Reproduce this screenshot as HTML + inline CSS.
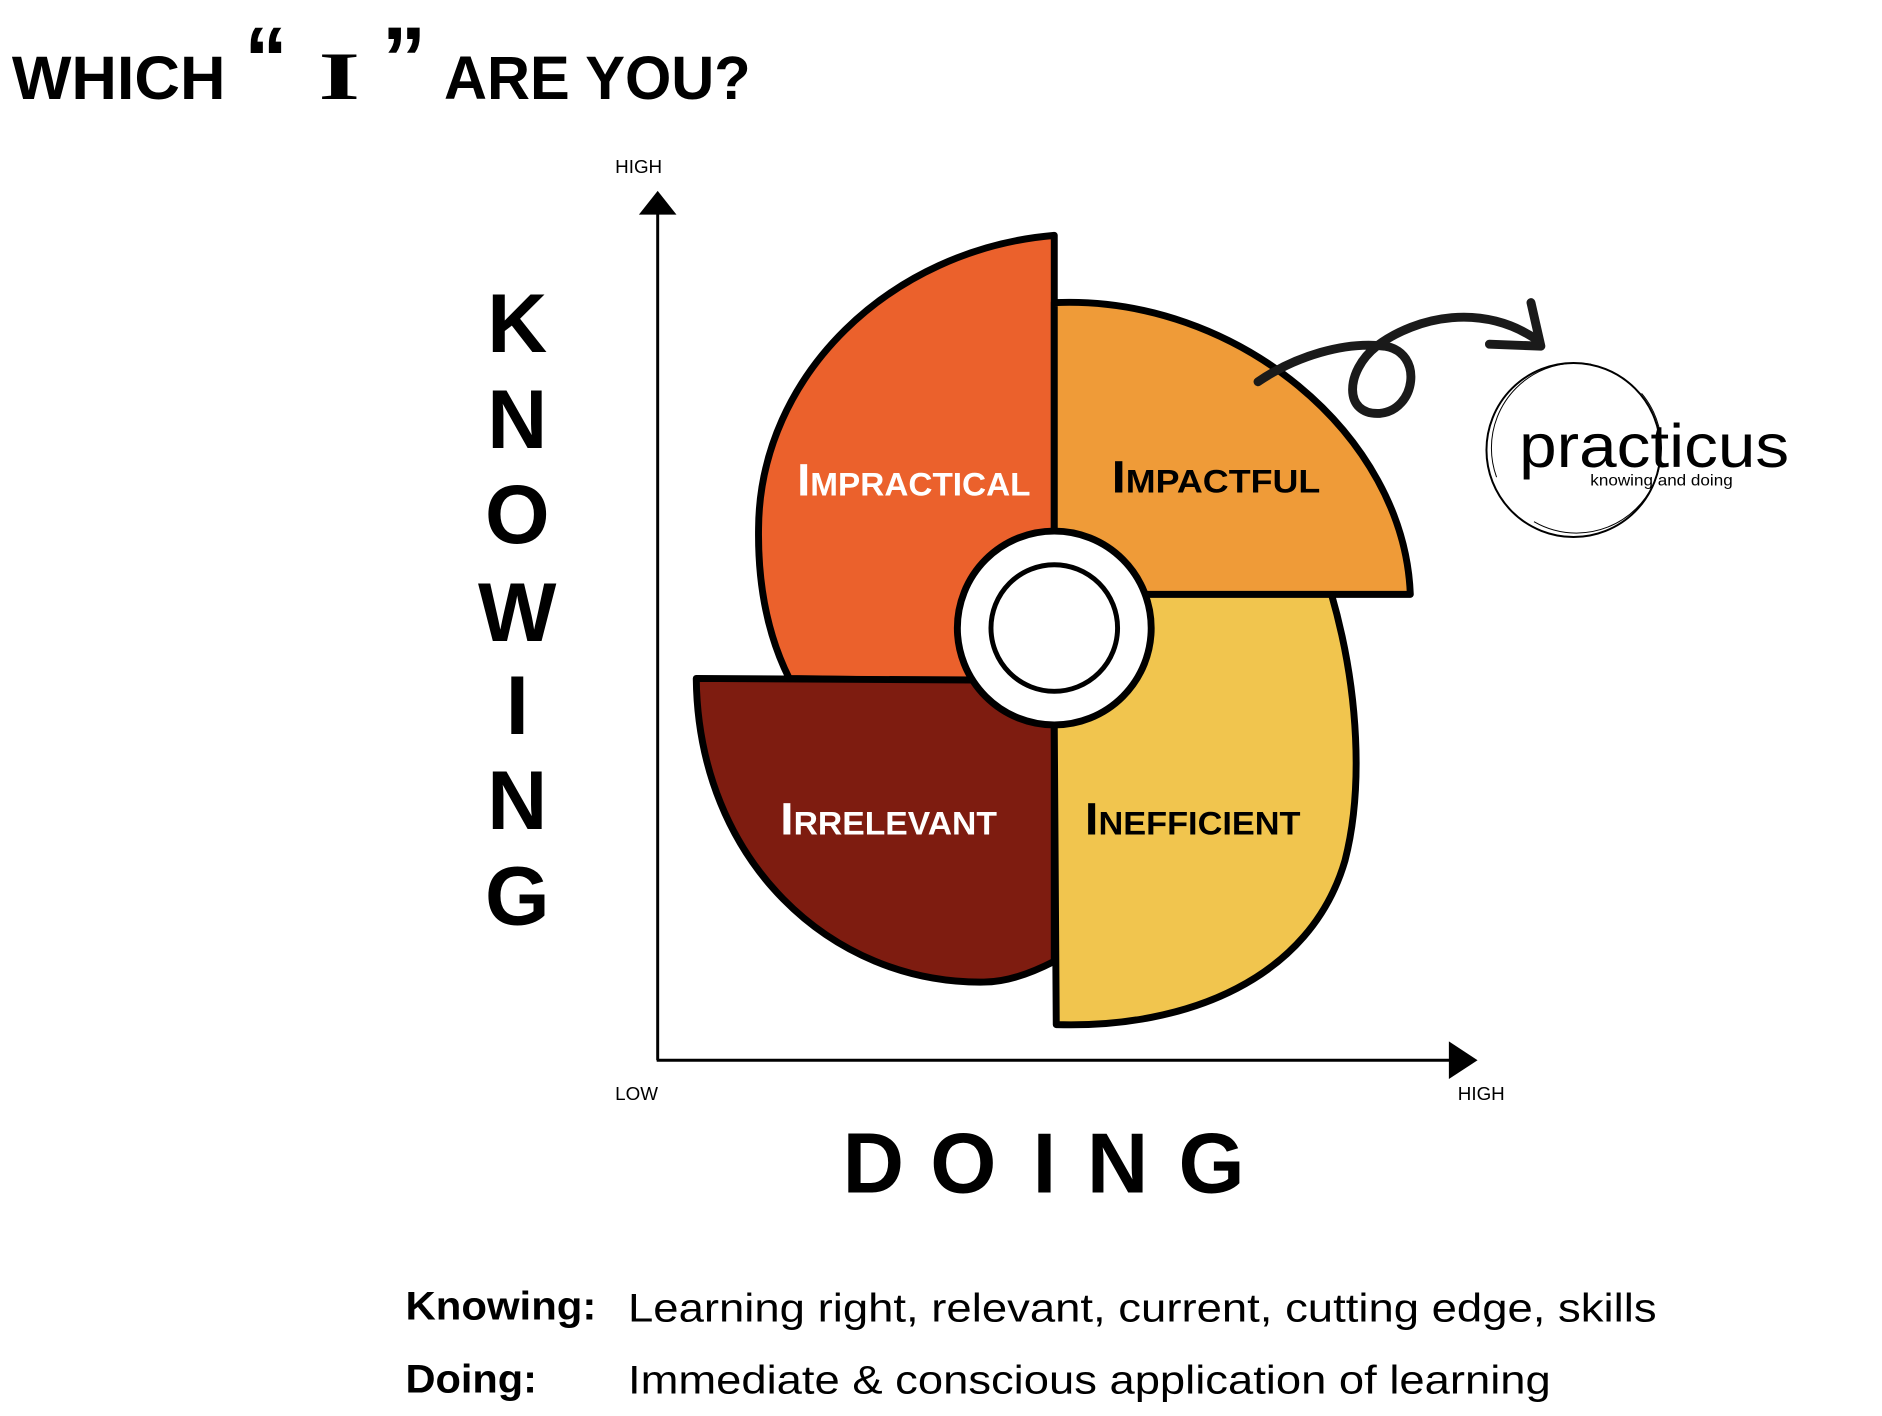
<!DOCTYPE html>
<html><head><meta charset="utf-8"><style>
html,body{margin:0;padding:0;background:#fff;}
svg{display:block;}
</style></head><body>
<svg width="1882" height="1416" viewBox="0 0 1882 1416" xmlns="http://www.w3.org/2000/svg">
<rect width="1882" height="1416" fill="#fff"/>
<g transform="scale(0.989)">
<!-- Title -->
<g font-family="Liberation Sans, sans-serif" font-weight="bold" fill="#000">
<text x="12" y="100" font-size="62" textLength="216" lengthAdjust="spacingAndGlyphs">WHICH</text>
<text x="247" y="90" font-size="90" textLength="44" lengthAdjust="spacingAndGlyphs" font-family="Liberation Sans, sans-serif">“</text>
<text x="322" y="100" font-size="68" textLength="42" lengthAdjust="spacingAndGlyphs" font-family="Liberation Serif, serif">I</text>
<text x="386" y="90" font-size="90" textLength="45" lengthAdjust="spacingAndGlyphs" font-family="Liberation Sans, sans-serif">”</text>
<text x="449" y="100" font-size="62" textLength="310" lengthAdjust="spacingAndGlyphs">ARE YOU?</text>
</g>
<!-- axes -->
<g font-family="Liberation Sans, sans-serif" font-size="19" fill="#000">
<text x="622" y="175">HIGH</text>
<text x="622" y="1112">LOW</text>
<text x="1474" y="1112">HIGH</text>
</g>
<line x1="665" y1="212" x2="665" y2="1072" stroke="#000" stroke-width="3"/>
<line x1="664" y1="1072" x2="1470" y2="1072" stroke="#000" stroke-width="3"/>
<polygon points="646,217 684,217 665,193" fill="#000"/>
<polygon points="1465,1053 1465,1091 1494,1072" fill="#000"/>
<!-- KNOWING -->
<g font-family="Liberation Sans, sans-serif" font-weight="bold" font-size="84" fill="#000" text-anchor="middle">
<text x="523" y="356">K</text>
<text x="523" y="453">N</text>
<text x="523" y="549">O</text>
<text x="523" y="648">W</text>
<text x="523" y="742">I</text>
<text x="523" y="838">N</text>
<text x="523" y="935">G</text>
</g>
<!-- DOING -->
<g font-family="Liberation Sans, sans-serif" font-weight="bold" font-size="86" fill="#000" text-anchor="middle">
<text x="883" y="1206">D</text>
<text x="974" y="1206">O</text>
<text x="1056" y="1206">I</text>
<text x="1130" y="1206">N</text>
<text x="1225" y="1206">G</text>
</g>
<!-- wheel -->
<g stroke="#000" stroke-width="7" stroke-linejoin="round">
<path d="M1066,238 C900,252 768,380 767,534 C766,600 780,650 798,686 L1066,690 Z" fill="#EB612C"/>
<path d="M704,686 L1066,688 L1066,972 C1035,988 1012,993 995,993 C840,995 706,870 704,686 Z" fill="#7E1C10"/>
<path d="M1346,600 C1375,700 1378,800 1360,870 C1325,990 1200,1040 1068,1036 L1066,735 L1066,600 Z" fill="#F1C54E"/>
<path d="M1066,306 C1250,298 1420,440 1426,601 L1066,601 Z" fill="#EF9B38"/>
<circle cx="1066" cy="635" r="98" fill="#fff"/>
<circle cx="1066" cy="635" r="64" fill="#fff" stroke-width="5"/>
</g>
<!-- labels -->
<g font-family="Liberation Sans, sans-serif" font-weight="bold" font-size="46" style="font-variant:small-caps">
<text x="806" y="501" fill="#fff" textLength="236" lengthAdjust="spacingAndGlyphs">Impractical</text>
<text x="1124" y="498" fill="#000" textLength="211" lengthAdjust="spacingAndGlyphs">Impactful</text>
<text x="789" y="844" fill="#fff" textLength="219" lengthAdjust="spacingAndGlyphs">Irrelevant</text>
<text x="1097" y="844" fill="#000" textLength="218" lengthAdjust="spacingAndGlyphs">Inefficient</text>
</g>
<!-- curly arrow -->
<g fill="none" stroke="#1a1a1a" stroke-width="9" stroke-linecap="round" stroke-linejoin="round">
<path d="M1272,386 C1310,360 1360,345 1400,350 C1440,356 1432,415 1395,418 C1358,420 1360,375 1392,350 C1432,320 1500,305 1556,345"/>
<path d="M1548,306 L1558,350 L1506,348"/>
</g>
<!-- practicus logo -->
<circle cx="1591" cy="455" r="88" fill="none" stroke="#000" stroke-width="2"/>
<circle cx="1594" cy="453" r="86" fill="none" stroke="#000" stroke-width="1" stroke-dasharray="180 60"/>
<text x="1536" y="472" font-family="Liberation Sans, sans-serif" font-size="62" fill="#000" textLength="273" lengthAdjust="spacingAndGlyphs">practicus</text>
<text x="1608" y="491" font-family="Liberation Sans, sans-serif" font-size="16" fill="#000" textLength="144" lengthAdjust="spacingAndGlyphs">knowing and doing</text>
<!-- bottom definitions -->
<g font-family="Liberation Sans, sans-serif" font-size="40" fill="#000">
<text x="410" y="1334" font-weight="bold" textLength="193" lengthAdjust="spacingAndGlyphs">Knowing:</text>
<text x="635" y="1336" textLength="1040" lengthAdjust="spacingAndGlyphs">Learning right, relevant, current, cutting edge, skills</text>
<text x="410" y="1408" font-weight="bold" textLength="133" lengthAdjust="spacingAndGlyphs">Doing:</text>
<text x="635" y="1409" textLength="933" lengthAdjust="spacingAndGlyphs">Immediate &amp; conscious application of learning</text>
</g>
</g>
</svg>
</body></html>
